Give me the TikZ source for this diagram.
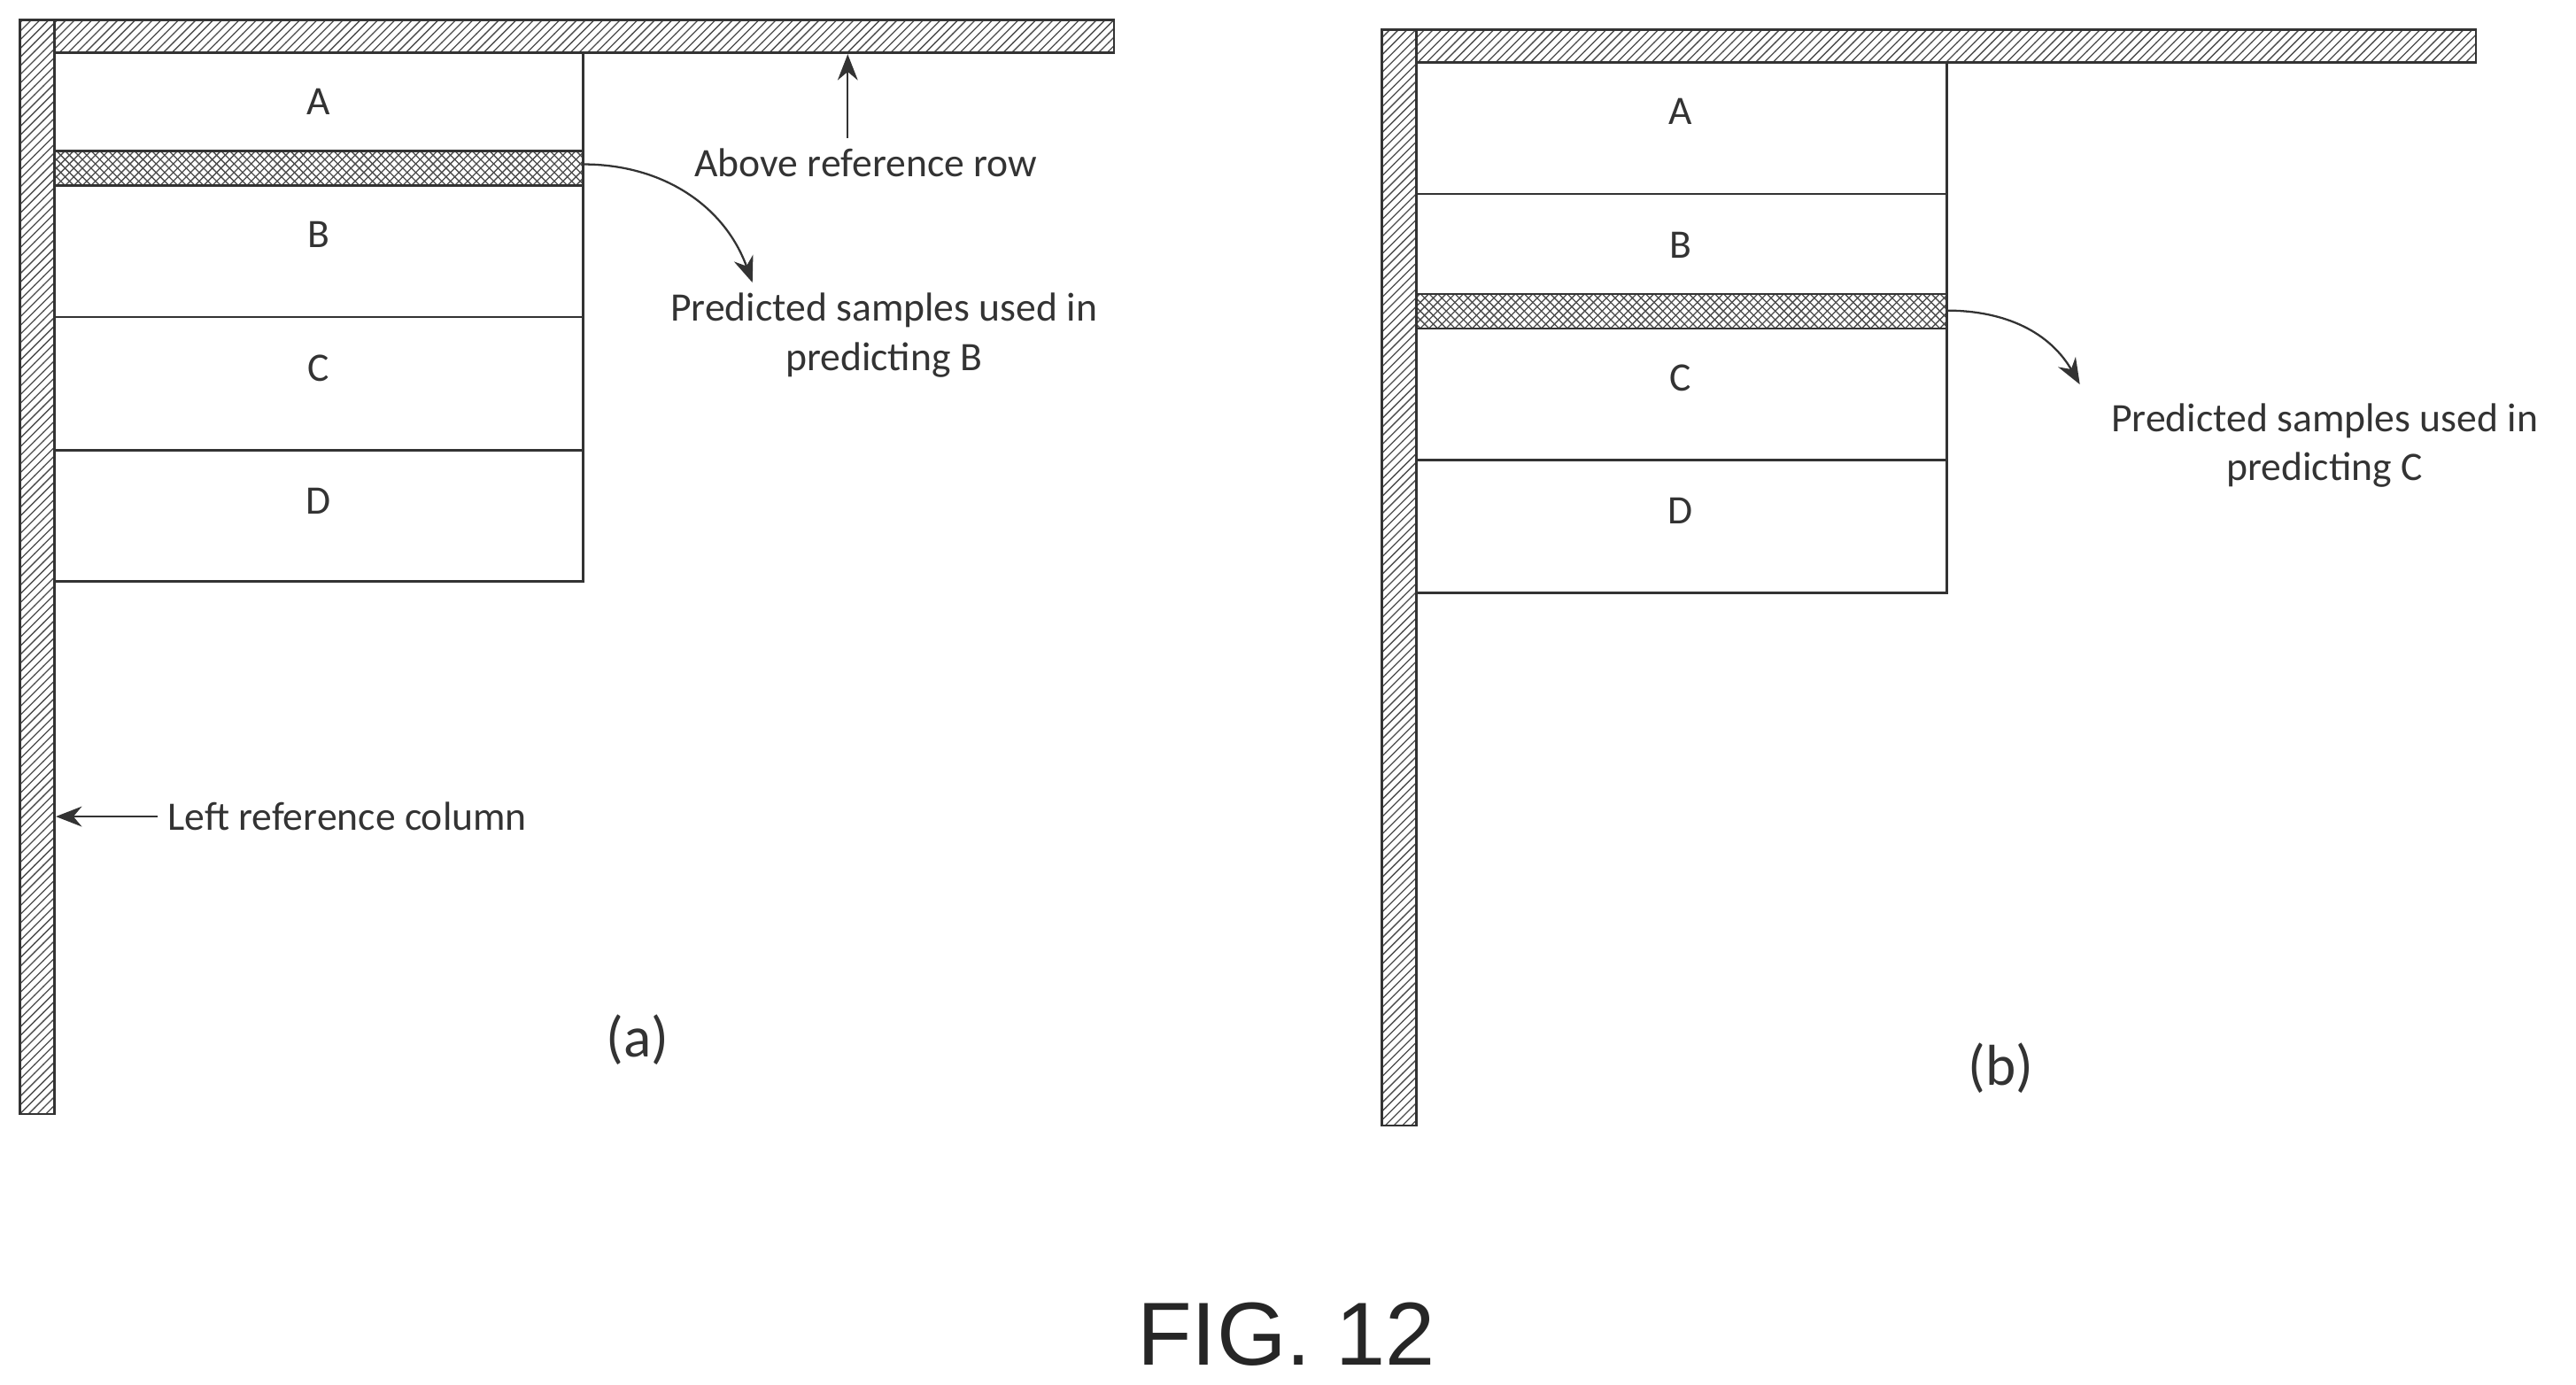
\documentclass[tikz,border=0pt]{standalone}
\usepackage{fontspec}
\setmainfont{Carlito}
\newfontfamily\figfont{Liberation Sans}
\usetikzlibrary{arrows.meta,patterns,positioning}

\begin{document}
\begin{tikzpicture}[x=0.02cm, y=-0.02cm,
  refbar/.style={draw=black!80, line width=0.8pt, pattern=north east lines, pattern color=black!70},
  predbar/.style={draw=black!80, line width=0.8pt, pattern=crosshatch, pattern color=black!70},
  block/.style={draw=black!80, line width=0.8pt},
  lbl/.style={font=\fontsize{14}{17}\selectfont, text=black!80},
  note/.style={font=\fontsize{14}{17}\selectfont, text=black!80, align=center},
  conn/.style={draw=black!80, line width=0.7pt, -{Stealth[length=9pt,width=7pt]}}]
  \useasboundingbox (0,0) rectangle (1568,843);

  % Panel (a)
  \draw[refbar] (12,12) rectangle (33,678);
  \draw[refbar] (33,12) rectangle (678,32);
  \draw[block] (33,32) rectangle (355,92);
  \draw[predbar] (33,92) rectangle (355,113);
  \draw[block] (33,113) rectangle (355,193);
  \draw[block] (33,193) rectangle (355,274);
  \draw[block] (33,274) rectangle (355,354);
  \node[lbl] (aA) at (194,62) {A};
  \node[lbl] (aB) at (194,143) {B};
  \node[lbl] (aC) at (194,224) {C};
  \node[lbl] (aD) at (194,305) {D};
  \coordinate (aPred) at (355,100);
  \coordinate (aPredEnd) at (458,172);
  \draw[conn] (aPred) to[out=0, in=110] (aPredEnd);
  \node[note] (aNote) at (538,204) {Predicted samples used in\\predicting B};
  \node[note, anchor=north] (aRow) at (527,84) {Above reference row};
  \coordinate (aRowTop) at (516,33);
  \draw[conn] (aRow.north -| aRowTop) -- (aRowTop);
  \node[note, anchor=west] (aCol) at (96,497) {Left reference column};
  \coordinate (aColEnd) at (34,497);
  \draw[conn] (aCol.west) -- (aColEnd);
  \node[font=\fontsize{20}{24}\selectfont, text=black!80] (aCap) at (388,633) {(a)};

  % Panel (b)
  \draw[refbar] (841,18) rectangle (862,685);
  \draw[refbar] (862,18) rectangle (1507,38);
  \draw[block] (862,38) rectangle (1185,118);
  \draw[block] (862,118) rectangle (1185,179);
  \draw[predbar] (862,179) rectangle (1185,200);
  \draw[block] (862,200) rectangle (1185,280);
  \draw[block] (862,280) rectangle (1185,361);
  \node[lbl] (bA) at (1023,68) {A};
  \node[lbl] (bB) at (1023,149) {B};
  \node[lbl] (bC) at (1023,230) {C};
  \node[lbl] (bD) at (1023,311) {D};
  \coordinate (bPred) at (1185,189);
  \coordinate (bPredEnd) at (1266,234);
  \draw[conn] (bPred) to[out=0, in=120] (bPredEnd);
  \node[note] (bNote) at (1415,271) {Predicted samples used in\\predicting C};
  \node[font=\fontsize{20}{24}\selectfont, text=black!80] (bCap) at (1218,650) {(b)};

  \node[font=\figfont\fontsize{31}{36}\selectfont, text=black!85] (fig) at (783,812) {FIG. 12};
\end{tikzpicture}
\end{document}
